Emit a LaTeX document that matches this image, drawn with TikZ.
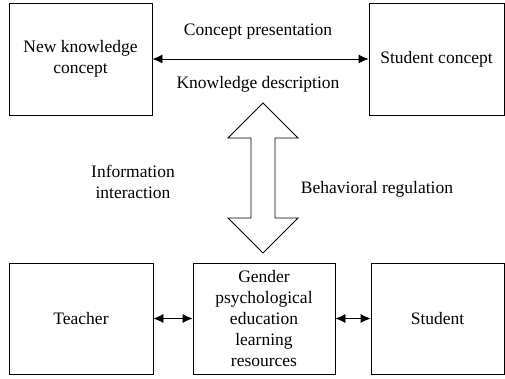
\documentclass[tikz,border=0pt]{standalone}
\usepackage{fontspec}
\setmainfont{Liberation Serif}
\usetikzlibrary{arrows.meta}
\begin{document}
\begin{tikzpicture}[x=1pt, y=-1pt, >={Latex[length=10pt,width=9pt]}, line width=0.8pt,
        every node/.style={font=\fontsize{17.5}{21}\selectfont, align=center},
        box/.style={draw, inner sep=0pt, minimum height=112pt}]
        \useasboundingbox (0,0) rectangle (505,378);
        \node[box, minimum width=143pt] (newc) at (80.5,59) {New knowledge\\concept};
        \node[box, minimum width=135pt] (stuc) at (436.5,59) {Student concept};
        \node (pres) at (258,32) {Concept presentation};
        \node (desc) at (258,84) {Knowledge description};
        \draw[<->] (newc)--(stuc);
        \node[box, minimum width=144pt, minimum height=111pt] (teach) at (81,318.5) {Teacher};
        \node[box, minimum width=142pt, minimum height=111pt] (res) at (264,318.5) {Gender\\psychological\\education\\learning\\resources};
        \node[box, minimum width=133pt, minimum height=111pt] (stud) at (437.5,318.5) {Student};
        \draw[<->] (teach)--(res);
        \draw[<->] (res)--(stud);
        \node (info) at (133,182) {Information\\interaction};
        \node (beh) at (377,189) {Behavioral regulation};
        % hollow double arrow between the two rows
        \draw (263,103) -- (298,138) -- (275,138) -- (275,218) -- (298,218) -- (263,253)
            -- (228,218) -- (251,218) -- (251,138) -- (228,138) -- cycle;
    \end{tikzpicture}
\end{document}
